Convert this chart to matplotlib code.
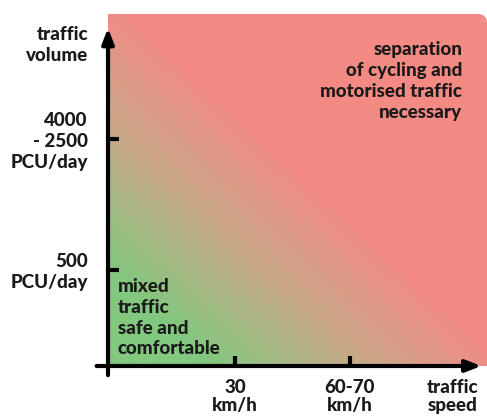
import numpy as np
import matplotlib
matplotlib.use("Agg")
import matplotlib.pyplot as plt
from matplotlib.colors import LinearSegmentedColormap
from matplotlib.path import Path
from matplotlib.patches import PathPatch

# ---- data ----
x_tick_values = [33.5, 63.8]
x_tick_labels = ["30\nkm/h", "60-70\nkm/h"]
y_tick_values = [64.5, 27.3]
y_tick_labels = ["4000\n- 2500\nPCU/day", "500\nPCU/day"]
x_axis_label = "traffic\nspeed"
y_axis_label = "traffic\nvolume"
zone_low = "mixed\ntraffic\nsafe and\ncomfortable"
zone_high = "separation\nof cycling and\nmotorised traffic\nnecessary"
gradient_colors = ["#82C87F", "#C6A987", "#F48A84"]

plt.rcParams["font.family"] = ["Lato", "DejaVu Sans"]
W, H = 487, 416
fig = plt.figure(figsize=(W / 100, H / 100), dpi=100)
L, R, T, B = 108, 487, 14, 366
ax = fig.add_axes([L / W, 1 - B / H, (R - L) / W, (B - T) / H])
ax.set_xlim(0, 100)
ax.set_ylim(0, 100)
ax.axis("off")

# gradient background
n = 300
xx, yy = np.meshgrid(np.linspace(0, 1, n), np.linspace(0, 1, n))
u = xx + yy
t = np.clip((u - 0.27) / 0.8, 0, 1)
cmap = LinearSegmentedColormap.from_list("g2r", gradient_colors)
im = ax.imshow(t, origin="lower", extent=[0, 100, 0, 100], cmap=cmap,
               vmin=0, vmax=1, aspect="auto", interpolation="bilinear", zorder=0)
rx, ry = 100 * 9 / (R - L), 100 * 9 / (B - T)
verts = [(0, 0), (100, 0), (100, 100 - ry), (100, 100), (100 - rx, 100),
         (0, 100), (0, 0)]
codes = [Path.MOVETO, Path.LINETO, Path.LINETO, Path.CURVE3, Path.CURVE3,
         Path.LINETO, Path.CLOSEPOLY]
clip = PathPatch(Path(verts, codes), transform=ax.transData, facecolor="none",
                 edgecolor="none")
ax.add_patch(clip)
im.set_clip_path(clip)

# axes arrows
lw = 3.0
ax.annotate("", xy=(0, 96), xytext=(0, -2.6), xycoords="data",
            arrowprops=dict(arrowstyle="-|>,head_length=0.9,head_width=0.35",
                            lw=lw, color="black", shrinkA=0, shrinkB=0),
            annotation_clip=False)
ax.annotate("", xy=(98.5, 0), xytext=(-3, 0), xycoords="data",
            arrowprops=dict(arrowstyle="-|>,head_length=0.9,head_width=0.35",
                            lw=lw, color="black", shrinkA=0, shrinkB=0),
            annotation_clip=False)

# ticks
for xv in x_tick_values:
    ax.plot([xv, xv], [0, 2.8], color="black", lw=lw, solid_capstyle="butt")
for yv in y_tick_values:
    ax.plot([0, 2.8], [yv, yv], color="black", lw=lw, solid_capstyle="butt")

fs = 13.5
kw = dict(fontsize=fs, fontweight="black", color="#1a1a1a", linespacing=1.27)
kwb = dict(kw, linespacing=1.12)
for xv, lab in zip(x_tick_values, x_tick_labels):
    ax.text(xv, -3.6, lab, ha="center", va="top", **kwb)
ax.text(91.0, -3.6, x_axis_label, ha="center", va="top", **kwb)
for yv, lab in zip(y_tick_values, y_tick_labels):
    ax.text(-5.3, yv + (-0.8 if "\n-" in lab else -0.6), lab, ha="right",
            va="center", **kw)
ax.text(-5.3, 91.3, y_axis_label, ha="right", va="center", **kw)
ax.text(93.5, 92.2, zone_high, ha="right", va="top", **kw)
ax.text(2.6, 25.0, zone_low, ha="left", va="top", **kw)

fig.savefig("out.png", dpi=100)
